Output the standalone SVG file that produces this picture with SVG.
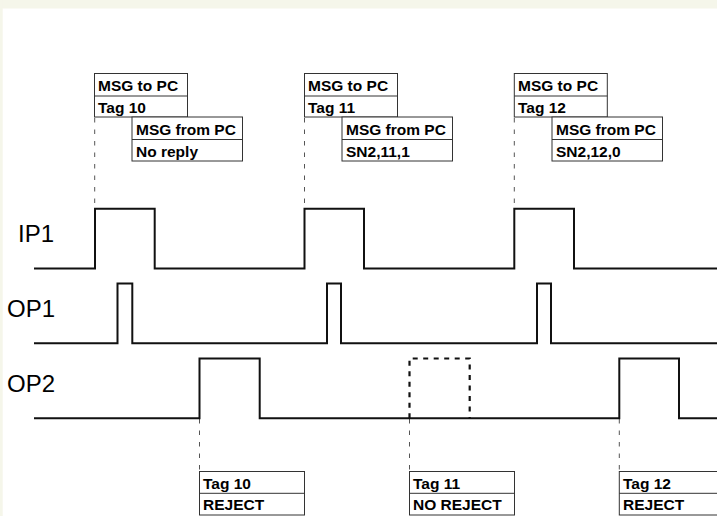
<svg xmlns="http://www.w3.org/2000/svg" width="717" height="516" viewBox="0 0 717 516">
<style>
  .sig { fill: none; stroke: #111; stroke-width: 2; stroke-linejoin: miter; stroke-linecap: square; }
  .sigdash { fill: none; stroke: #111; stroke-width: 2.2; stroke-dasharray: 5 5.5; }
  .guide { fill: none; stroke: #555; stroke-width: 1; stroke-dasharray: 4.5 7; }
  .box { fill: #fff; stroke: #333; stroke-width: 1; }
  .sep { stroke: #333; stroke-width: 1; }
  .bt { font-family: "Liberation Sans", Arial, sans-serif; font-size: 15.5px; font-weight: bold; fill: #000; }
  .lbl { font-family: "Liberation Sans", Arial, sans-serif; font-size: 24px; fill: #000; }
</style>
<rect x="0" y="0" width="717" height="516" fill="#fff"/>
<rect x="0" y="0" width="717" height="8.5" fill="#f5f6ea"/>
<rect x="0" y="0" width="2.7" height="516" fill="#f5f6ea"/>

<g id="connectors">
  <line class="guide" x1="94.7" y1="118" x2="94.7" y2="208"/>
  <line class="guide" x1="304.5" y1="118" x2="304.5" y2="208"/>
  <line class="guide" x1="514.3" y1="118" x2="514.3" y2="208"/>
  <line class="guide" x1="199.5" y1="419" x2="199.5" y2="471"/>
  <line class="guide" x1="409.5" y1="419" x2="409.5" y2="471"/>
  <line class="guide" x1="619.3" y1="419" x2="619.3" y2="471"/>
</g>

<g id="IP1">
  <text class="lbl" x="18" y="242">IP1</text>
  <polyline class="sig" points="35,268.5 95,268.5 95,208.7 154.7,208.7 154.7,268.5 304.5,268.5 304.5,208.7 364,208.7 364,268.5 514.3,268.5 514.3,208.7 574,208.7 574,268.5 718,268.5"/>
</g>

<g id="OP1">
  <text class="lbl" x="7" y="317">OP1</text>
  <polyline class="sig" points="35,343.3 117.5,343.3 117.5,283.5 132.3,283.5 132.3,343.3 327,343.3 327,283.5 341,283.5 341,343.3 537,343.3 537,283.5 551,283.5 551,343.3 718,343.3"/>
</g>

<g id="OP2">
  <text class="lbl" x="7" y="392">OP2</text>
  <polyline class="sig" points="35,418.3 199.5,418.3 199.5,358.5 259.7,358.5 259.7,418.3 619.3,418.3 619.3,358.5 679,358.5 679,418.3 718,418.3"/>
  <polyline class="sigdash" points="409.5,418.3 409.5,358.5 469.7,358.5 469.7,418.3"/>
</g>

<g id="msg-to-pc-10">
  <rect class="box" x="94.5" y="73.5" width="93" height="43.5"/>
  <line class="sep" x1="94.5" y1="96" x2="187.5" y2="96"/>
  <text class="bt" x="98" y="91">MSG to PC</text>
  <text class="bt" x="98" y="113">Tag 10</text>
</g>
<g id="msg-from-pc-10">
  <rect class="box" x="132" y="117" width="110.5" height="44"/>
  <line class="sep" x1="132" y1="139.5" x2="242.5" y2="139.5"/>
  <text class="bt" x="136" y="134.5">MSG from PC</text>
  <text class="bt" x="136" y="157">No reply</text>
</g>

<g id="msg-to-pc-11">
  <rect class="box" x="304.5" y="73.5" width="93" height="43.5"/>
  <line class="sep" x1="304.5" y1="96" x2="397.5" y2="96"/>
  <text class="bt" x="308" y="91">MSG to PC</text>
  <text class="bt" x="308" y="113">Tag 11</text>
</g>
<g id="msg-from-pc-11">
  <rect class="box" x="342" y="117" width="110.5" height="44"/>
  <line class="sep" x1="342" y1="139.5" x2="452.5" y2="139.5"/>
  <text class="bt" x="346" y="134.5">MSG from PC</text>
  <text class="bt" x="346" y="157">SN2,11,1</text>
</g>

<g id="msg-to-pc-12">
  <rect class="box" x="514.3" y="73.5" width="93" height="43.5"/>
  <line class="sep" x1="514.3" y1="96" x2="607.3" y2="96"/>
  <text class="bt" x="518" y="91">MSG to PC</text>
  <text class="bt" x="518" y="113">Tag 12</text>
</g>
<g id="msg-from-pc-12">
  <rect class="box" x="552" y="117" width="110.5" height="44"/>
  <line class="sep" x1="552" y1="139.5" x2="662.5" y2="139.5"/>
  <text class="bt" x="556" y="134.5">MSG from PC</text>
  <text class="bt" x="556" y="157">SN2,12,0</text>
</g>

<g id="result-10">
  <rect class="box" x="199.5" y="471.5" width="105" height="43.5"/>
  <line class="sep" x1="199.5" y1="493.3" x2="304.5" y2="493.3"/>
  <text class="bt" x="203" y="488.5">Tag 10</text>
  <text class="bt" x="203" y="510">REJECT</text>
</g>
<g id="result-11">
  <rect class="box" x="409.5" y="471.5" width="105" height="43.5"/>
  <line class="sep" x1="409.5" y1="493.3" x2="514.5" y2="493.3"/>
  <text class="bt" x="413" y="488.5">Tag 11</text>
  <text class="bt" x="413" y="510">NO REJECT</text>
</g>
<g id="result-12">
  <rect class="box" x="619.3" y="471.5" width="105" height="43.5"/>
  <line class="sep" x1="619.3" y1="493.3" x2="724.3" y2="493.3"/>
  <text class="bt" x="623" y="488.5">Tag 12</text>
  <text class="bt" x="623" y="510">REJECT</text>
</g>
</svg>
